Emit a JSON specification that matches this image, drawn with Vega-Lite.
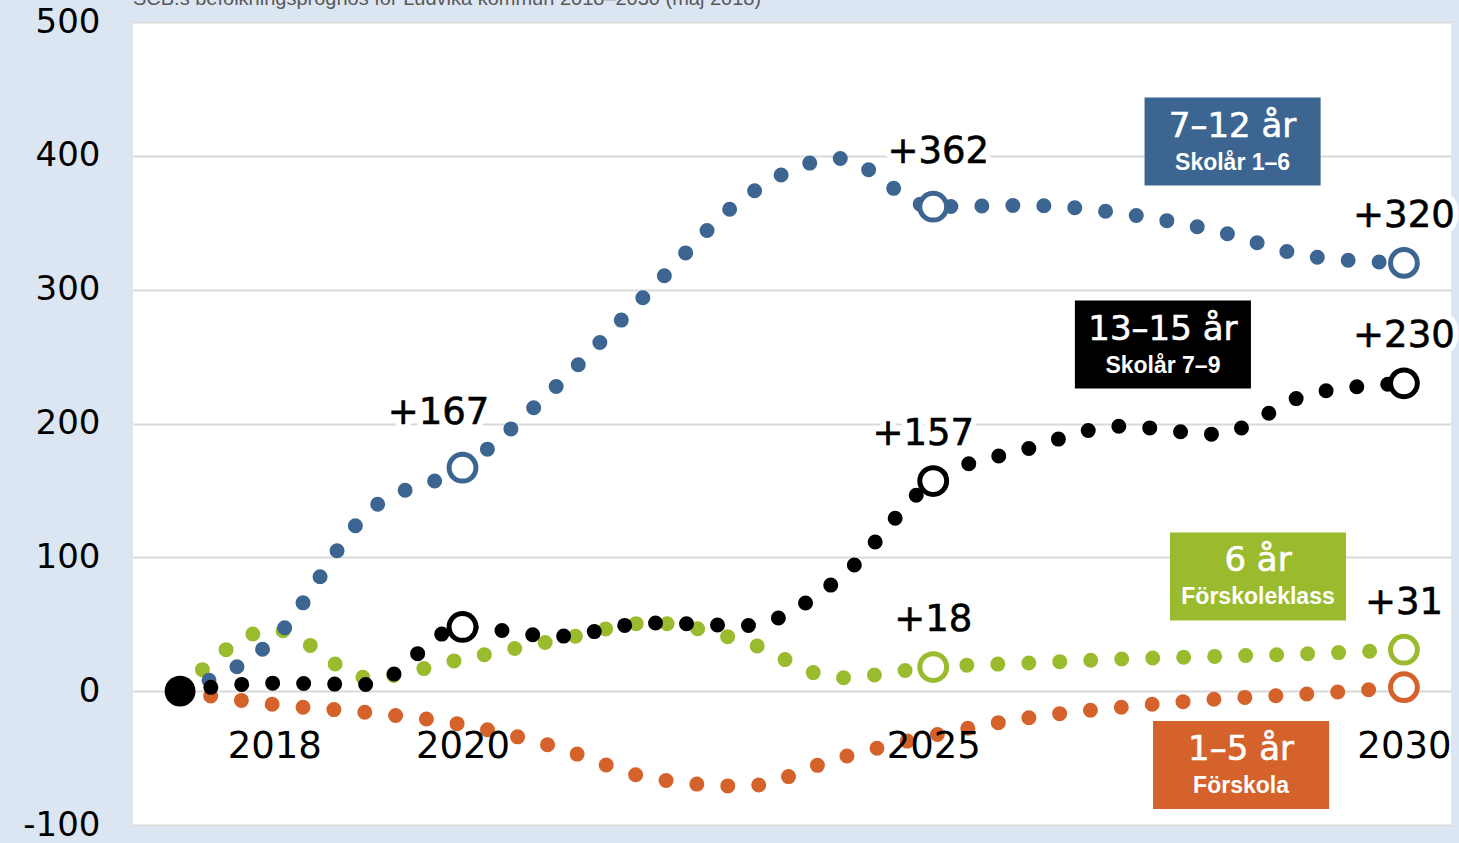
{
  "$schema": "https://vega.github.io/schema/vega-lite/v6.json",
  "width": 1318,
  "height": 803,
  "autosize": {"type": "none"},
  "padding": {"left": 133, "top": 22, "right": 8, "bottom": 18},
  "background": "#dce6f2",
  "title": {
    "text": "SCB:s befolkningsprognos för Ludvika kommun 2018–2030 (maj 2018)",
    "anchor": "start",
    "frame": "group",
    "orient": "top",
    "baseline": "alphabetic",
    "offset": -20,
    "font": "Liberation Sans",
    "fontSize": 20,
    "fontWeight": "normal",
    "color": "#595959"
  },
  "config": {
    "view": {"fill": "white", "stroke": null},
    "axis": {"labelFont": "DejaVu Sans", "labelColor": "#000000"}
  },
  "datasets": {
    "prognos": [
      {"series": "1–5 år", "year": 2017, "value": 0},
      {"series": "1–5 år", "year": 2018, "value": -10},
      {"series": "1–5 år", "year": 2019, "value": -16},
      {"series": "1–5 år", "year": 2020, "value": -25},
      {"series": "1–5 år", "year": 2021, "value": -42},
      {"series": "1–5 år", "year": 2022, "value": -65},
      {"series": "1–5 år", "year": 2023, "value": -71},
      {"series": "1–5 år", "year": 2024, "value": -50},
      {"series": "1–5 år", "year": 2025, "value": -33},
      {"series": "1–5 år", "year": 2026, "value": -20},
      {"series": "1–5 år", "year": 2027, "value": -12},
      {"series": "1–5 år", "year": 2028, "value": -6},
      {"series": "1–5 år", "year": 2029, "value": -2},
      {"series": "1–5 år", "year": 2030, "value": 3},
      {"series": "6 år", "year": 2017, "value": 0},
      {"series": "6 år", "year": 2018, "value": 46},
      {"series": "6 år", "year": 2019, "value": 10},
      {"series": "6 år", "year": 2020, "value": 24},
      {"series": "6 år", "year": 2021, "value": 38},
      {"series": "6 år", "year": 2022, "value": 51},
      {"series": "6 år", "year": 2023, "value": 37},
      {"series": "6 år", "year": 2024, "value": 10},
      {"series": "6 år", "year": 2025, "value": 18},
      {"series": "6 år", "year": 2026, "value": 21},
      {"series": "6 år", "year": 2027, "value": 24},
      {"series": "6 år", "year": 2028, "value": 26},
      {"series": "6 år", "year": 2029, "value": 28},
      {"series": "6 år", "year": 2030, "value": 31},
      {"series": "7–12 år", "year": 2017, "value": 0},
      {"series": "7–12 år", "year": 2018, "value": 39},
      {"series": "7–12 år", "year": 2019, "value": 134},
      {"series": "7–12 år", "year": 2020, "value": 167},
      {"series": "7–12 år", "year": 2021, "value": 228},
      {"series": "7–12 år", "year": 2022, "value": 300},
      {"series": "7–12 år", "year": 2023, "value": 369},
      {"series": "7–12 år", "year": 2024, "value": 398},
      {"series": "7–12 år", "year": 2025, "value": 362},
      {"series": "7–12 år", "year": 2026, "value": 363},
      {"series": "7–12 år", "year": 2027, "value": 357},
      {"series": "7–12 år", "year": 2028, "value": 344},
      {"series": "7–12 år", "year": 2029, "value": 325},
      {"series": "7–12 år", "year": 2030, "value": 320},
      {"series": "13–15 år", "year": 2017, "value": 0},
      {"series": "13–15 år", "year": 2018, "value": 6},
      {"series": "13–15 år", "year": 2019, "value": 5},
      {"series": "13–15 år", "year": 2020, "value": 48},
      {"series": "13–15 år", "year": 2021, "value": 41},
      {"series": "13–15 år", "year": 2022, "value": 51},
      {"series": "13–15 år", "year": 2023, "value": 49},
      {"series": "13–15 år", "year": 2024, "value": 84},
      {"series": "13–15 år", "year": 2025, "value": 157},
      {"series": "13–15 år", "year": 2026, "value": 181},
      {"series": "13–15 år", "year": 2027, "value": 198},
      {"series": "13–15 år", "year": 2028, "value": 192},
      {"series": "13–15 år", "year": 2029, "value": 222},
      {"series": "13–15 år", "year": 2030, "value": 230}
    ],
    "boxes": [
      {"series": "7–12 år", "year": 2028.18, "value": 410.7, "title": "7–12 år", "sub": "Skolår 1–6"},
      {"series": "13–15 år", "year": 2027.44, "value": 259, "title": "13–15 år", "sub": "Skolår 7–9"},
      {"series": "6 år", "year": 2028.45, "value": 85.7, "title": "6 år", "sub": "Förskoleklass"},
      {"series": "1–5 år", "year": 2028.27, "value": -55.2, "title": "1–5 år", "sub": "Förskola"}
    ]
  },
  "data": {"name": "prognos"},
  "encoding": {
    "x": {
      "field": "year", "type": "quantitative",
      "scale": {"domain": [2016.5, 2030.5], "nice": false, "zero": false},
      "axis": {
        "values": [2018, 2020, 2025, 2030], "format": "d", "title": null,
        "grid": false, "domain": false, "ticks": false, "tickSize": 0,
        "offset": -134, "labelPadding": 37, "labelFontSize": 37,
        "labelFlush": false, "labelOverlap": false, "zindex": 1
      }
    },
    "y": {
      "field": "value", "type": "quantitative",
      "scale": {"domain": [-100, 500], "nice": false, "zero": false},
      "axis": {
        "values": [-100, 0, 100, 200, 300, 400, 500], "title": null,
        "domain": false, "ticks": false, "tickSize": 0, "labelPadding": 33,
        "labelFontSize": 34, "labelExpr": "'' + datum.value", "labelFlush": false,
        "grid": true, "gridColor": "#d9d9d9", "gridWidth": 2
      }
    }
  },
  "layer": [
    {
      "mark": {"type": "line", "interpolate": "monotone", "strokeWidth": 15, "strokeDash": [0, 31], "strokeCap": "round"},
      "encoding": {
        "color": {
          "field": "series", "type": "nominal", "legend": null,
          "scale": {"domain": ["1–5 år", "6 år", "7–12 år", "13–15 år"], "range": ["#d4622a", "#9bbb2f", "#3c6591", "#000000"]}
        }
      }
    },
    {
      "transform": [{"filter": "datum.year == 2030 || (datum.year == 2025 && datum.series != '1–5 år') || (datum.year == 2020 && (datum.series == '7–12 år' || datum.series == '13–15 år'))"}],
      "mark": {"type": "point", "shape": "circle", "size": 720, "strokeWidth": 5, "fill": "white", "filled": true, "opacity": 1},
      "encoding": {
        "stroke": {
          "field": "series", "type": "nominal", "legend": null,
          "scale": {"domain": ["1–5 år", "6 år", "7–12 år", "13–15 år"], "range": ["#d4622a", "#9bbb2f", "#3c6591", "#000000"]}
        }
      }
    },
    {
      "transform": [{"filter": "datum.year == 2017 && datum.series == '13–15 år'"}],
      "mark": {"type": "point", "shape": "circle", "size": 950, "filled": true, "opacity": 1, "color": "#000000"}
    },
    {
      "transform": [{"filter": "(datum.year == 2030 && datum.series != '1–5 år') || (datum.year == 2025 && datum.series != '1–5 år') || (datum.year == 2020 && datum.series == '7–12 år')"}],
      "encoding": {"text": {"field": "value", "type": "quantitative", "format": "+d"}},
      "layer": [
        {
          "mark": {
            "type": "text", "font": "DejaVu Sans", "fontSize": 37, "align": "center", "baseline": "middle",
            "stroke": "white", "strokeWidth": 12, "strokeJoin": "round", "fill": "white",
            "dx": {"expr": "datum.series == '7–12 år' && datum.year == 2020 ? -24 : datum.series == '7–12 år' && datum.year == 2025 ? 5 : datum.series == '13–15 år' && datum.year == 2025 ? -10 : 0"},
            "dy": {"expr": "datum.series == '7–12 år' && datum.year <= 2025 ? -55 : -47"}
          }
        },
        {
          "mark": {
            "type": "text", "font": "DejaVu Sans", "fontSize": 37, "align": "center", "baseline": "middle",
            "fill": "#000000", "stroke": "#000000", "strokeWidth": 0.6,
            "dx": {"expr": "datum.series == '7–12 år' && datum.year == 2020 ? -24 : datum.series == '7–12 år' && datum.year == 2025 ? 5 : datum.series == '13–15 år' && datum.year == 2025 ? -10 : 0"},
            "dy": {"expr": "datum.series == '7–12 år' && datum.year <= 2025 ? -55 : -47"}
          }
        }
      ]
    },
    {
      "data": {"name": "boxes"},
      "layer": [
        {
          "mark": {"type": "point", "shape": "M-1,-0.5H1V0.5H-1Z", "size": 31000, "filled": true, "opacity": 1, "strokeWidth": 0},
          "encoding": {
            "color": {
              "field": "series", "type": "nominal", "legend": null,
              "scale": {"domain": ["1–5 år", "6 år", "7–12 år", "13–15 år"], "range": ["#d4622a", "#9bbb2f", "#3c6591", "#000000"]}
            }
          }
        },
        {
          "mark": {"type": "text", "font": "DejaVu Sans", "fontSize": 34, "align": "center", "baseline": "middle", "dy": -15, "fill": "white", "stroke": "white", "strokeWidth": 0.6},
          "encoding": {"text": {"field": "title"}}
        },
        {
          "mark": {"type": "text", "font": "Liberation Sans", "fontSize": 23, "fontWeight": "bold", "align": "center", "baseline": "middle", "dy": 21, "fill": "white"},
          "encoding": {"text": {"field": "sub"}}
        }
      ]
    }
  ]
}
